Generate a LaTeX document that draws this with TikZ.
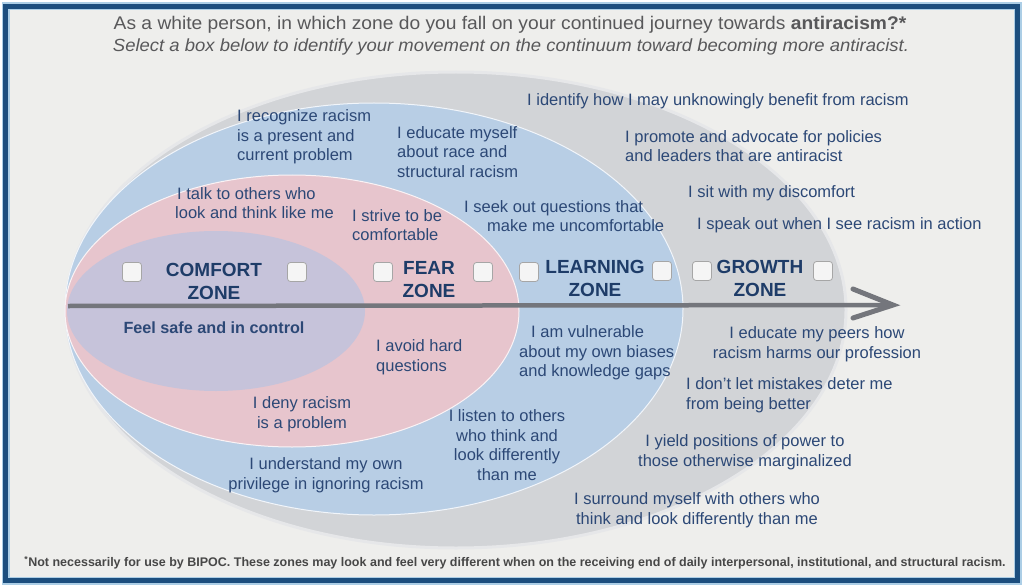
\documentclass[tikz,border=0pt]{standalone}
\usepackage{fontspec}
\setmainfont{Liberation Sans}
\newfontfamily\titlefont[FakeStretch=1.05]{Liberation Sans}
\usepackage{tikz}
\usetikzlibrary{arrows.meta}
\usepackage{xcolor}
\definecolor{paper}{RGB}{238,238,236}
\definecolor{frameblue}{RGB}{28,78,126}
\definecolor{framelight}{RGB}{172,206,230}
\definecolor{growthgray}{RGB}{210,212,215}
\definecolor{learnblue}{RGB}{184,206,229}
\definecolor{fearpink}{RGB}{231,197,205}
\definecolor{comfortlilac}{RGB}{198,195,218}
\definecolor{textblue}{RGB}{44,72,118}
\definecolor{zoneblue}{RGB}{30,60,104}
\definecolor{titlegray}{RGB}{88,88,90}
\definecolor{arrowgray}{RGB}{116,118,124}

\begin{document}
\begin{tikzpicture}[x=1pt, y=-1pt,
  statement/.style={text=textblue, inner sep=0pt,
                    font=\fontsize{16.5}{19.5}\selectfont},
  zonetitle/.style={text=zoneblue, align=center, inner sep=0pt,
                    font=\fontsize{19}{23}\selectfont\bfseries},
  tickbox/.style={draw=gray!70, fill=white!92!gray, rounded corners=3pt,
                  minimum size=19pt, inner sep=0pt, line width=0.8pt}]
  \useasboundingbox (0,0) rectangle (1024,588);

  % Paper and frame
  \fill[white] (0,0) rectangle (1024,588);
  \fill[paper] (5,6) rectangle (1018,581);
  \draw[framelight, line width=8pt] (5.5,6.5) rectangle (1017.5,580.5);
  \draw[frameblue, line width=5pt] (5.5,6.5) rectangle (1017.5,580.5);

  % Heading
  \node[text=titlegray, inner sep=0pt, font=\titlefont\fontsize{18.3}{21}\selectfont]
    (heading) at (510,25) {As a white person, in which zone do you fall on your continued journey towards \textbf{antiracism?*}};
  \node[text=titlegray, inner sep=0pt, font=\titlefont\fontsize{17.6}{21}\selectfont\itshape]
    (subheading) at (511,47) {Select a box below to identify your movement on the continuum toward becoming more antiracist.};

  % Zones, outermost first
  \fill[growthgray, draw=growthgray!55!white, line width=3pt] (456,310) ellipse (390 and 238);
  \fill[learnblue, draw=white!80!learnblue, line width=1pt] (374,309) ellipse (309 and 206);
  \fill[fearpink, draw=white!80!fearpink, line width=1pt] (292,311) ellipse (227 and 136);
  \fill[comfortlilac] (216,311) ellipse (149 and 80);

  % Continuum arrow
  \coordinate (shaftstart) at (68,306);
  \coordinate (shafttip) at (893,305);
  \draw[arrowgray, line width=4.5pt] (shaftstart) -- (shafttip);
  \draw[arrowgray, line width=5pt, line cap=round, line join=miter]
    (shafttip) ++(-40,-16) -- (shafttip) -- ++(-40,13);

  % Zone names with their boxes
  \node[zonetitle] (comfort) at (214,281) {COMFORT\\ZONE};
  \node[zonetitle] (fear) at (429,280) {FEAR\\ZONE};
  \node[zonetitle] (learning) at (595,278) {LEARNING\\ZONE};
  \node[zonetitle] (growth) at (760,278) {GROWTH\\ZONE};
  \node[tickbox] (comfortin) at (132,272) {};
  \node[tickbox] (comfortout) at (297,272) {};
  \node[tickbox] (fearin) at (383,272) {};
  \node[tickbox] (fearout) at (483,272) {};
  \node[tickbox] (learningin) at (529,272) {};
  \node[tickbox] (learningout) at (662,271) {};
  \node[tickbox] (growthin) at (702,271) {};
  \node[tickbox] (growthout) at (823,271) {};

  % Statements above the arrow
  \node[statement, anchor=west, align=left] (recognize) at (237,137) {I recognize racism\\is a present and\\current problem};
  \node[statement, anchor=west, align=left] (educate) at (397,152) {I educate myself\\about race and\\structural racism};
  \node[statement, anchor=west] (identify) at (527,101) {I identify how I may unknowingly benefit from racism};
  \node[statement, anchor=west, align=left] (promote) at (625,146) {I promote and advocate for policies\\and leaders that are antiracist};
  \node[statement, anchor=west, align=left] (talk) at (175,203) {\hspace*{2pt}I talk to others who\\look and think like me};
  \node[statement, anchor=west, align=left] (strive) at (352,225) {I strive to be\\comfortable};
  \node[statement, anchor=west, align=left] (seek) at (464,216) {I seek out questions that\\\hspace*{23pt}make me uncomfortable};
  \node[statement, anchor=west] (sit) at (688,193) {I sit with my discomfort};
  \node[statement, anchor=west] (speak) at (697,225) {I speak out when I see racism in action};

  % Statements below the arrow
  \node[statement, font=\fontsize{16.2}{19}\selectfont\bfseries] (feelsafe) at (214,328) {Feel safe and in control};
  \node[statement, anchor=west, align=left] (avoid) at (376,357) {I avoid hard\\questions};
  \node[statement, anchor=west, align=left] (vulnerable) at (519,353) {\hspace*{12pt}I am vulnerable\\about my own biases\\and knowledge gaps};
  \node[statement, align=center] (peers) at (817,344) {I educate my peers how\\racism harms our profession};
  \node[statement, anchor=west, align=left] (mistakes) at (686,395) {I don't let mistakes deter me\\from being better};
  \node[statement, align=center] (deny) at (302,414) {I deny racism\\is a problem};
  \node[statement, align=center] (listen) at (507,445) {I listen to others\\who think and\\look differently\\than me};
  \node[statement, align=center] (yield) at (745,452) {I yield positions of power to\\those otherwise marginalized};
  \node[statement, align=center] (understand) at (326,475) {I understand my own\\privilege in ignoring racism};
  \node[statement, align=center] (surround) at (697,510) {I surround myself with others who\\think and look differently than me};

  % Footnote
  \node[text=black!72, inner sep=0pt, font=\fontsize{12.5}{14}\selectfont\bfseries]
    (footnote) at (515,563) {\textsuperscript{*}Not necessarily for use by BIPOC. These zones may look and feel very different when on the receiving end of daily interpersonal, institutional, and structural racism.};
\end{tikzpicture}
\end{document}
